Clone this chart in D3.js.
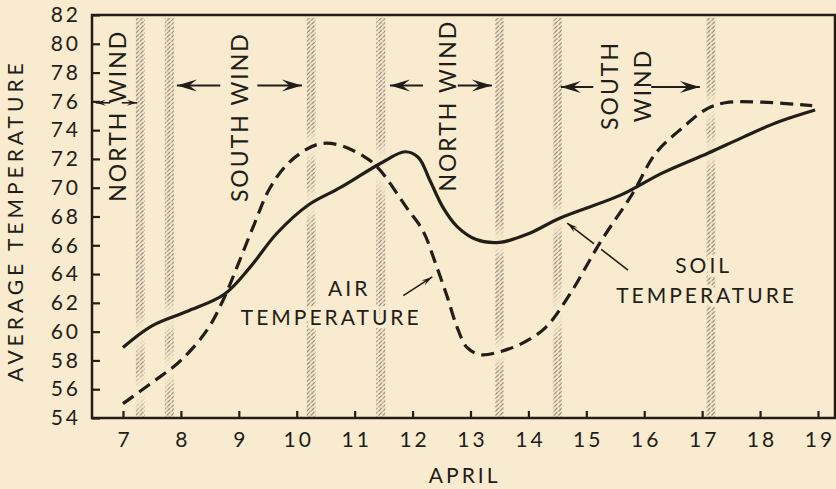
<!DOCTYPE html>
<meta charset="utf-8">
<style>
body { margin: 0; background: #f8ebcf; }
svg { display: block; font-family: Lato, "Noto Sans", sans-serif; }
.frame { fill: none; stroke: #221d17; stroke-width: 2.5px; }
.soil { fill: none; stroke: #221d17; stroke-width: 3.2px; }
.air { fill: none; stroke: #221d17; stroke-width: 3.2px; stroke-dasharray: 13 7; }
.halo { fill: none; stroke: #f8ebcf; stroke-width: 24px; opacity: 0.9; }
.label { fill: #221d17; }
</style>
<body></body>
<script src="https://d3js.org/d3.v7.min.js"></script>
<script>
// soil temperature (solid line)
var soilDays = [7, 7.5, 8.1, 8.75, 9.2, 9.65, 10.2, 10.75, 11.45, 11.87, 12.1, 12.3, 12.53, 12.77, 13.1, 13.5, 14, 14.55, 15.6, 16.3, 17.1, 17.7, 18.3, 18.95];
var soilTemp = [58.9, 60.4, 61.4, 62.6, 64.5, 66.8, 68.8, 70.0, 71.7, 72.5, 72.1, 70.5, 68.6, 67.3, 66.4, 66.2, 66.8, 67.9, 69.5, 71.0, 72.4, 73.5, 74.55, 75.4];

// air temperature (dashed line)
var airDays = [7, 7.55, 8.0, 8.45, 8.73, 8.97, 9.25, 9.54, 9.88, 10.35, 10.7, 11.15, 11.4, 11.9, 12.18, 12.4, 12.6, 12.77, 12.94, 13.17, 13.5, 13.9, 14.3, 14.7, 15.24, 15.8, 16.2, 16.67, 17.09, 17.4, 18.0, 18.9];
var airTemp = [55.0, 56.6, 58.0, 60.1, 62.2, 64.5, 67.3, 70.0, 71.8, 73.0, 73.0, 72.2, 71.4, 68.6, 67.0, 64.7, 62.4, 60.3, 58.9, 58.4, 58.6, 59.2, 60.3, 62.5, 66.2, 69.6, 72.4, 74.2, 75.5, 75.9, 75.95, 75.7];

// hatched strips (wind shifts)
var bandDays = [7.3, 7.8, 10.25, 11.45, 13.5, 14.5, 17.15];

var dayTicks = d3.range(7, 20);
var tempTicks = d3.range(54, 83, 2);

// wind periods: label lines, label centre (day, temp), arrow level, arrows [tail, head]
var windPeriods = [
  {lines: ["NORTH WIND"], day: 6.91, temp: 75.0, level: 75.9, arrows: [[6.78, 6.53], [6.98, 7.24]], small: true},
  {lines: ["SOUTH WIND"], day: 9.02, temp: 74.9, level: 77.1, arrows: [[8.68, 7.93], [9.32, 10.09]]},
  {lines: ["NORTH WIND"], day: 12.61, temp: 75.7, level: 77.1, arrows: [[12.18, 11.61], [12.78, 13.37]]},
  {lines: ["SOUTH", "WIND"], day: 15.69, temp: 77.1, level: 77.0, arrows: [[15.12, 14.56], [16.12, 16.96]]}
];

// curve labels: text lines, line centres (day, temp of baseline), pointer [tail, head]
var curveLabels = [
  {lines: ["AIR", "TEMPERATURE"], lineDay: [10.88, 10.57], lineTemp: [62.5, 60.45], tail: [11.84, 62.5], head: [12.34, 63.8]},
  {lines: ["SOIL", "TEMPERATURE"], lineDay: [17.0, 17.05], lineTemp: [64.05, 62.0], tail: [15.72, 64.28], head: [14.67, 67.54]}
];

var width = 836, height = 489;
var ink = "#221d17", paper = "#f8ebcf";

var x = d3.scaleLinear().domain([6.465, 19.294]).range([92, 835]);
var y = d3.scaleLinear().domain([54, 82]).range([418, 15]);

var svg = d3.select("body").append("svg")
  .attr("width", width)
  .attr("height", height);

var defs = svg.append("defs");
var pat = defs.append("pattern")
  .attr("id", "hatch")
  .attr("patternUnits", "userSpaceOnUse")
  .attr("width", 4.5).attr("height", 4.2);
pat.append("path")
  .attr("d", "M0.4,3.9 L4.1,0.3")
  .attr("stroke", "#5e5548")
  .attr("stroke-width", 1);
defs.append("filter").attr("id", "blur")
  .attr("x", "-20%").attr("y", "-20%").attr("width", "140%").attr("height", "140%")
  .append("feGaussianBlur").attr("stdDeviation", 4);

// hatched strips
svg.append("g").selectAll("rect")
  .data(bandDays)
  .join("rect")
  .attr("x", function(d) { return x(d) - 4.5; })
  .attr("width", 9)
  .attr("y", y(81.8))
  .attr("height", y(54.1) - y(81.8))
  .attr("fill", "url(#hatch)")
  .attr("opacity", 0.8);

var line = d3.line()
  .x(function(d) { return x(d[0]); })
  .y(function(d) { return y(d[1]); })
  .curve(d3.curveCatmullRom.alpha(0.5));

var soilData = soilDays.map(function(d, i) { return [d, soilTemp[i]]; });
var airData = airDays.map(function(d, i) { return [d, airTemp[i]]; });

// soft halos that fade the strips near the curves
svg.append("path").datum(soilData).attr("class", "halo").attr("filter", "url(#blur)").attr("d", line);
svg.append("path").datum(airData).attr("class", "halo").attr("filter", "url(#blur)").attr("d", line);

function arrowHead(g, x1, y1, x2, y2, L, W) {
  var a = Math.atan2(y2 - y1, x2 - x1) * 180 / Math.PI;
  g.append("path")
    .attr("d", "M0,0 L" + (-L) + "," + (-W / 2) + " L" + (-L * 0.62) + ",0 L" + (-L) + "," + (W / 2) + "Z")
    .attr("transform", "translate(" + x2 + "," + y2 + ") rotate(" + a + ")")
    .attr("fill", ink);
}

// curve labels with pointers
curveLabels.forEach(function(c) {
  var g = svg.append("g");
  c.lines.forEach(function(t, i) {
    g.append("text")
      .attr("class", "label")
      .attr("x", x(c.lineDay[i]) + 1.5)
      .attr("y", y(c.lineTemp[i]))
      .attr("text-anchor", "middle")
      .attr("font-size", 21)
      .attr("letter-spacing", 3)
      .attr("stroke", paper).attr("stroke-width", 7).attr("paint-order", "stroke")
      .text(t);
  });
  var x1 = x(c.tail[0]), y1 = y(c.tail[1]), x2 = x(c.head[0]), y2 = y(c.head[1]);
  g.append("line")
    .attr("x1", x1).attr("y1", y1).attr("x2", x2).attr("y2", y2)
    .attr("stroke", ink).attr("stroke-width", 1.6);
  arrowHead(g, x1, y1, x2, y2, 11, 6);
});

// narrow gap under the dashed curve, then the curves
svg.append("path").datum(airData)
  .attr("fill", "none").attr("stroke", paper).attr("stroke-width", 9)
  .attr("d", line);
svg.append("path").datum(soilData).attr("class", "soil").attr("d", line);
svg.append("path").datum(airData).attr("class", "air").attr("d", line);

// frame
svg.append("rect").attr("class", "frame")
  .attr("x", x.range()[0]).attr("y", y.range()[1])
  .attr("width", x.range()[1] - x.range()[0])
  .attr("height", y.range()[0] - y.range()[1]);

// axes
var gy = svg.append("g")
  .attr("transform", "translate(" + x.range()[0] + ",0)")
  .call(d3.axisLeft(y).tickValues(tempTicks).tickSize(-8).tickPadding(11));
gy.select(".domain").remove();
gy.attr("font-size", 21).attr("font-family", null).attr("color", ink);
gy.selectAll("line").attr("stroke-width", 2.2);
gy.selectAll("text").attr("letter-spacing", 3);

var gx = svg.append("g")
  .attr("transform", "translate(0," + y.range()[0] + ")")
  .call(d3.axisBottom(x).tickValues(dayTicks).tickSize(-7).tickPadding(14));
gx.select(".domain").remove();
gx.attr("font-size", 21).attr("font-family", null).attr("color", ink);
gx.selectAll("line").attr("stroke-width", 2.2);
gx.selectAll("text").attr("letter-spacing", 3).attr("dx", 1.5);

// axis titles
svg.append("text")
  .attr("class", "label")
  .attr("transform", "translate(23," + ((y.range()[0] + y.range()[1]) / 2 + 4) + ") rotate(-90)")
  .attr("text-anchor", "middle")
  .attr("font-size", 21)
  .attr("letter-spacing", 4)
  .text("AVERAGE TEMPERATURE");

svg.append("text")
  .attr("class", "label")
  .attr("x", x(12.9))
  .attr("y", 483)
  .attr("text-anchor", "middle")
  .attr("font-size", 21)
  .attr("letter-spacing", 3)
  .text("APRIL");

// wind labels and arrows
windPeriods.forEach(function(w) {
  var g = svg.append("g");
  var n = w.lines.length, gap = 33;
  w.lines.forEach(function(t, i) {
    var bx = x(w.day) + 8.5 + (i - (n - 1) / 2) * gap;
    g.append("text")
      .attr("class", "label")
      .attr("transform", "translate(" + bx + "," + y(w.temp) + ") rotate(-90)")
      .attr("text-anchor", "middle")
      .attr("font-size", 23)
      .attr("letter-spacing", 2)
      .text(t);
  });
  w.arrows.forEach(function(a) {
    var x1 = x(a[0]), x2 = x(a[1]), yy = y(w.level);
    g.append("line")
      .attr("x1", x1).attr("y1", yy).attr("x2", x2).attr("y2", yy)
      .attr("stroke", ink).attr("stroke-width", w.small ? 1.6 : 2);
    if (w.small) arrowHead(g, x1, yy, x2, yy, 10, 6);
    else arrowHead(g, x1, yy, x2, yy, 20, 12);
  });
});
</script>
